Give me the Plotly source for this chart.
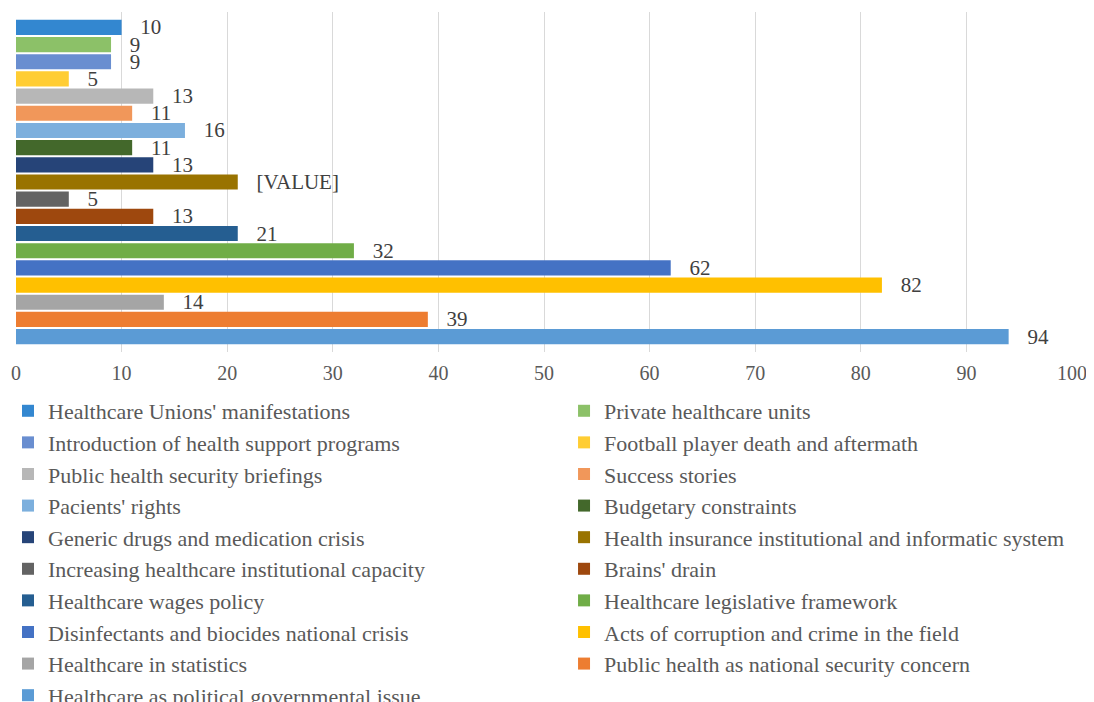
import plotly.graph_objects as go

# Series listed bottom bar -> top bar
series_names = [
    "Healthcare as political governmental issue",
    "Public health as national security concern",
    "Healthcare in statistics",
    "Acts of corruption and crime in the field",
    "Disinfectants and biocides national crisis",
    "Healthcare legislative framework",
    "Healthcare wages policy",
    "Brains' drain",
    "Increasing healthcare institutional capacity",
    "Health insurance institutional and informatic system",
    "Generic drugs and medication crisis",
    "Budgetary constraints",
    "Pacients' rights",
    "Success stories",
    "Public health security briefings",
    "Football player death and aftermath",
    "Introduction of health support programs",
    "Private healthcare units",
    "Healthcare Unions' manifestations",
]
series_values = [94, 39, 14, 82, 62, 32, 21, 13, 5, 21, 13, 11, 16, 11, 13, 5, 9, 9, 10]
series_labels = ["94", "39", "14", "82", "62", "32", "21", "13", "5", "[VALUE]",
                 "13", "11", "16", "11", "13", "5", "9", "9", "10"]
series_colors = [
    "#5B9BD5", "#ED7D31", "#A5A5A5", "#FFC000", "#4472C4", "#70AD47",
    "#255E91", "#9E480E", "#636363", "#997300", "#264478", "#43682B",
    "#7CAFDD", "#F1975A", "#B7B7B7", "#FFCD33", "#698ED0", "#8CC168",
    "#3387D0",
]
# legend column of each series (Excel two-column legend)
legend_column = ["legend" if i % 2 == 0 else "legend2" for i in range(len(series_names))]
category = [""]
x_ticks = list(range(0, 101, 10))

FONT = "Liberation Serif, Times New Roman, serif"
GRAY = "#595959"

fig = go.Figure()
for name, val, lab, col, leg in zip(series_names, series_values, series_labels,
                                     series_colors, legend_column):
    fig.add_trace(go.Bar(
        name=name,
        x=[val],
        y=category,
        orientation="h",
        marker=dict(color=col, line=dict(width=0)),
        text=["   " + lab],
        textposition="outside",
        constraintext="none",
        cliponaxis=False,
        textfont=dict(family=FONT, size=21, color="#404040"),
        hoverinfo="name+x",
        legend=leg,
    ))

legend_common = dict(
    orientation="v",
    traceorder="reversed",
    xref="container",
    yref="container",
    xanchor="left",
    yanchor="top",
    y=0.4496,
    itemwidth=30,
    font=dict(family=FONT, size=22, color=GRAY),
    tracegroupgap=0,
    bgcolor="rgba(0,0,0,0)",
)

fig.update_layout(
    width=1086,
    height=694,
    barmode="group",
    bargap=0.04,
    bargroupgap=0.12,
    paper_bgcolor="white",
    plot_bgcolor="white",
    margin=dict(l=8, r=22, t=4, b=350, autoexpand=False),
    font=dict(family=FONT, size=20, color=GRAY),
    xaxis=dict(
        range=[0, 100],
        tickvals=x_ticks,
        showgrid=True,
        gridcolor="#D9D9D9",
        gridwidth=1,
        zeroline=False,
        showline=False,
        ticks="outside",
        ticklen=3,
        tickcolor="rgba(0,0,0,0)",
        tickfont=dict(family=FONT, size=20, color=GRAY),
    ),
    yaxis=dict(showticklabels=False, showgrid=False, zeroline=False, showline=False),
    legend=dict(legend_common, x=0.0),
    legend2=dict(legend_common, x=0.512),
    showlegend=True,
)

fig.write_html("out.html")
